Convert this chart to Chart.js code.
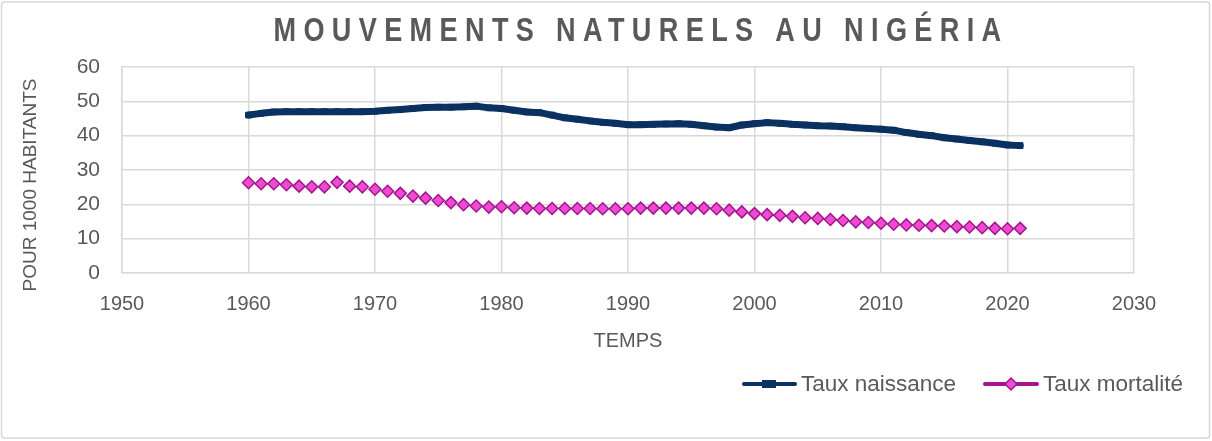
<!DOCTYPE html>
<html>
<head>
<meta charset="utf-8">
<script src="https://cdn.jsdelivr.net/npm/chart.js@4"></script>
<style>
  html, body { margin: 0; padding: 0; background: #fff; }
  #wrap { width: 1212px; height: 441px; }
</style>
</head>
<body>
<div id="wrap"><canvas id="natChart" width="1212" height="441"></canvas></div>
<script>
// données
const chartTitle = 'MOUVEMENTS NATURELS AU NIGÉRIA';
const years = [1960, 1961, 1962, 1963, 1964, 1965, 1966, 1967, 1968, 1969,
  1970, 1971, 1972, 1973, 1974, 1975, 1976, 1977, 1978, 1979,
  1980, 1981, 1982, 1983, 1984, 1985, 1986, 1987, 1988, 1989,
  1990, 1991, 1992, 1993, 1994, 1995, 1996, 1997, 1998, 1999,
  2000, 2001, 2002, 2003, 2004, 2005, 2006, 2007, 2008, 2009,
  2010, 2011, 2012, 2013, 2014, 2015, 2016, 2017, 2018, 2019,
  2020, 2021];
const birthRate = [46.0, 46.5, 46.9, 47.0, 47.0, 47.0, 47.0, 47.0, 47.0, 47.0,
  47.1, 47.4, 47.6, 47.9, 48.2, 48.3, 48.3, 48.4, 48.6, 48.1,
  47.9, 47.4, 46.9, 46.7, 46.0, 45.2, 44.8, 44.3, 43.9, 43.6,
  43.2, 43.2, 43.3, 43.4, 43.5, 43.3, 42.9, 42.5, 42.3, 43.1,
  43.5, 43.8, 43.6, 43.3, 43.1, 42.9, 42.8, 42.6, 42.3, 42.1,
  41.9, 41.6, 40.9, 40.4, 40.0, 39.4, 39.0, 38.6, 38.2, 37.8,
  37.3, 37.1];
const deathRate = [26.3, 26.0, 26.0, 25.7, 25.3, 25.1, 25.1, 26.4, 25.3, 25.1,
  24.4, 23.8, 23.2, 22.4, 21.8, 21.1, 20.5, 19.9, 19.5, 19.2,
  19.3, 19.0, 18.9, 18.8, 18.8, 18.8, 18.8, 18.8, 18.7, 18.7,
  18.7, 18.9, 18.9, 18.9, 18.9, 18.9, 18.9, 18.7, 18.3, 17.8,
  17.3, 17.0, 16.8, 16.5, 16.1, 15.9, 15.6, 15.3, 14.9, 14.7,
  14.5, 14.2, 14.0, 13.9, 13.8, 13.7, 13.5, 13.4, 13.2, 13.0,
  12.9, 13.0];
const seriesNames = ['Taux naissance', 'Taux mortalité'];
const xTitle = 'TEMPS';
const yTitle = 'POUR 1000 HABITANTS';

const grey = '#595959';
const gridGrey = '#d9d9d9';
const navy = '#0b3160';
const pinkFill = '#ee4cd0';
const pinkLine = '#a3158e';
const font = '"Liberation Sans", Arial, sans-serif';

const toPoints = vals => vals.map((v, i) => ({ x: years[i], y: v }));

// cadre, titres et légende dessinés à la main
const decor = {
  id: 'decor',
  beforeDraw(chart) {
    const ctx = chart.ctx;
    ctx.save();
    ctx.fillStyle = '#fff';
    ctx.fillRect(0, 0, chart.width, chart.height);
    ctx.strokeStyle = gridGrey;
    ctx.lineWidth = 1.5;
    ctx.beginPath();
    ctx.roundRect(1.5, 2, 1208, 436, 3);
    ctx.stroke();
    ctx.restore();
  },
  afterDraw(chart) {
    const ctx = chart.ctx;
    ctx.save();
    ctx.fillStyle = grey;

    // titre un peu condensé, lettres espacées
    ctx.save();
    ctx.translate(641, 41);
    ctx.scale(0.82, 1);
    ctx.font = 'bold 33px ' + font;
    ctx.letterSpacing = '9px';
    ctx.textAlign = 'center';
    ctx.textBaseline = 'alphabetic';
    ctx.fillText(chartTitle, 0, 0);
    ctx.restore();

    // titre vertical
    ctx.save();
    ctx.translate(31, 185);
    ctx.rotate(-Math.PI / 2);
    ctx.font = '19px ' + font;
    ctx.textAlign = 'center';
    ctx.textBaseline = 'middle';
    ctx.fillText(yTitle, 0, 0);
    ctx.restore();

    // légende
    const ly = 384;
    ctx.lineCap = 'round';
    ctx.lineWidth = 4;
    ctx.strokeStyle = navy;
    ctx.beginPath(); ctx.moveTo(744, ly); ctx.lineTo(795, ly); ctx.stroke();
    ctx.fillStyle = navy;
    ctx.fillRect(762, ly - 4, 14, 8);
    ctx.strokeStyle = pinkLine;
    ctx.beginPath(); ctx.moveTo(985, ly); ctx.lineTo(1037, ly); ctx.stroke();
    ctx.beginPath();
    ctx.moveTo(1011, ly - 6); ctx.lineTo(1017, ly); ctx.lineTo(1011, ly + 6); ctx.lineTo(1005, ly);
    ctx.closePath();
    ctx.fillStyle = pinkFill; ctx.fill();
    ctx.lineWidth = 1.5; ctx.strokeStyle = pinkLine; ctx.stroke();

    ctx.fillStyle = grey;
    ctx.font = '22.5px ' + font;
    ctx.textAlign = 'left';
    ctx.textBaseline = 'middle';
    ctx.fillText(seriesNames[0], 801, ly + 1);
    ctx.fillText(seriesNames[1], 1043, ly + 1);
    ctx.restore();
  }
};

const ctx = document.getElementById('natChart').getContext('2d');
new Chart(ctx, {
  type: 'scatter',
  data: {
    datasets: [{
      label: seriesNames[0],
      data: toPoints(birthRate),
      showLine: true,
      borderColor: navy,
      backgroundColor: navy,
      borderWidth: 7,
      borderCapStyle: 'round',
      borderJoinStyle: 'round',
      pointStyle: 'rect',
      pointRadius: 4,
      pointBorderWidth: 1
    }, {
      label: seriesNames[1],
      data: toPoints(deathRate),
      showLine: false,
      borderColor: pinkLine,
      backgroundColor: pinkFill,
      pointStyle: 'rectRot',
      pointRadius: 6,
      pointBorderWidth: 1.5
    }]
  },
  options: {
    responsive: false,
    animation: false,
    layout: { padding: { left: 20, top: 67, right: 78, bottom: 88 } },
    plugins: {
      legend: { display: false },
      title: { display: false },
      tooltip: { enabled: false }
    },
    scales: {
      x: {
        type: 'linear',
        min: 1950,
        max: 2030,
        afterFit: s => { s.height = 80; },
        ticks: {
          stepSize: 10,
          padding: 19,
          color: grey,
          font: { family: font, size: 20 },
          callback: v => String(v)
        },
        grid: { color: gridGrey, lineWidth: 1.5, drawTicks: false },
        border: { color: gridGrey, width: 1.5 },
        title: {
          display: true,
          text: xTitle,
          color: grey,
          font: { family: font, size: 20 },
          padding: 0
        }
      },
      y: {
        min: 0,
        max: 60,
        afterFit: s => { s.width = 102; },
        ticks: {
          stepSize: 10,
          padding: 22,
          color: grey,
          font: { family: font, size: 21 }
        },
        grid: { color: gridGrey, lineWidth: 1.5, drawTicks: false },
        border: { color: gridGrey, width: 1.5 }
      }
    }
  },
  plugins: [decor]
});
</script>
</body>
</html>
